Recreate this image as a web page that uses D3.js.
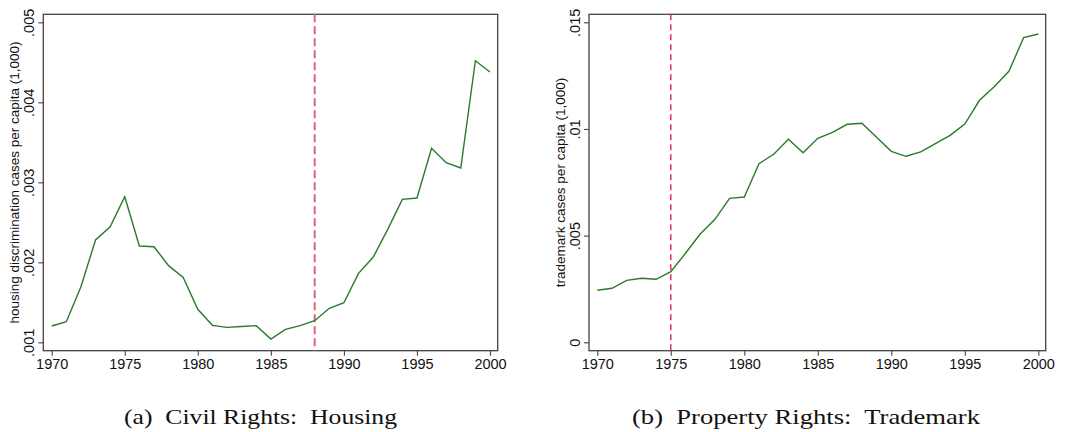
<!DOCTYPE html>
<html>
<head>
<meta charset="utf-8">
<script src="https://cdn.jsdelivr.net/npm/d3@7"></script>
<style>
  html, body { margin: 0; padding: 0; background: #fff; }
  svg { display: block; }
</style>
</head>
<body>
<svg id="chart" width="1067" height="432"></svg>
<script>
// Years shared by both panels
const years = d3.range(1970, 2001);

// Panel (a): housing discrimination cases per capita (1,000)
const housingValues = [
  0.001204, 0.001258, 0.001695, 0.002279, 0.002445, 0.00282, 0.002204, 0.002195,
  0.001958, 0.001812, 0.001412, 0.001212, 0.001187, 0.001198, 0.001208, 0.001041,
  0.001162, 0.001208, 0.00127, 0.001425, 0.001495, 0.001862, 0.002062, 0.002412,
  0.002787, 0.002804, 0.003425, 0.003245, 0.003179, 0.00452, 0.004379
];
const housingTicks = [0.001, 0.002, 0.003, 0.004, 0.005];
const housingTickLabels = [".001", ".002", ".003", ".004", ".005"];
const housingEventYear = 1988;

// Panel (b): trademark cases per capita (1,000)
const trademarkValues = [
  0.002437, 0.002531, 0.002906, 0.003, 0.002953, 0.00331, 0.004172, 0.005077,
  0.005766, 0.00675, 0.006811, 0.008372, 0.008813, 0.009516, 0.008888, 0.009563,
  0.009844, 0.010219, 0.010266, 0.00961, 0.008953, 0.008719, 0.008922, 0.00931,
  0.009703, 0.010233, 0.011344, 0.011983, 0.012703, 0.01428, 0.014452
];
const trademarkTicks = [0, 0.005, 0.01, 0.015];
const trademarkTickLabels = ["0", ".005", ".01", ".015"];
const trademarkEventYear = 1975;

const xTicks = [1970, 1975, 1980, 1985, 1990, 1995, 2000];

const svg = d3.select("#chart");
const sans = "Liberation Sans, Arial, sans-serif";

function drawPanel(cfg) {
  const g = svg.append("g");
  const x = d3.scaleLinear().domain([1970, 2000]).range([cfg.x0, cfg.x1]);
  const y = d3.scaleLinear().domain(cfg.yDomain).range(cfg.yRange);

  // plot frame
  g.append("rect")
    .attr("x", cfg.frame[0]).attr("y", cfg.frame[1])
    .attr("width", cfg.frame[2] - cfg.frame[0])
    .attr("height", cfg.frame[3] - cfg.frame[1])
    .attr("fill", "none").attr("stroke", "#444").attr("stroke-width", 1.3);

  // x axis
  const xAxis = g.append("g")
    .attr("transform", `translate(0,${cfg.frame[3]})`)
    .call(d3.axisBottom(x).tickValues(xTicks).tickFormat(d3.format("d")).tickSize(5).tickPadding(3));
  xAxis.select(".domain").remove();
  xAxis.selectAll("line").attr("stroke", "#444").attr("stroke-width", 1.1);
  xAxis.selectAll("text").attr("font-family", sans)
    .attr("font-size", 14.5).attr("fill", "#111");

  // y axis with rotated labels
  const yAxis = g.append("g")
    .attr("transform", `translate(${cfg.frame[0]},0)`)
    .call(d3.axisLeft(y).tickValues(cfg.ticks)
      .tickFormat((d, i) => cfg.tickLabels[i]).tickSize(5));
  yAxis.select(".domain").remove();
  yAxis.selectAll("line").attr("stroke", "#444").attr("stroke-width", 1.1);
  yAxis.selectAll("text")
    .attr("font-family", sans)
    .attr("font-size", 14.5).attr("fill", "#111")
    .attr("x", null).attr("dy", null)
    .attr("text-anchor", "middle")
    .attr("transform", "translate(-9,0) rotate(-90)")
    .attr("y", 0);

  // y axis title
  g.append("text")
    .attr("transform", `translate(${cfg.titleX},${(cfg.frame[1] + cfg.frame[3]) / 2}) rotate(-90)`)
    .attr("text-anchor", "middle")
    .attr("font-family", sans)
    .attr("font-size", 13.5).attr("fill", "#111")
    .text(cfg.yTitle);

  // event year marker
  g.append("line")
    .attr("x1", x(cfg.eventYear)).attr("x2", x(cfg.eventYear))
    .attr("y1", cfg.frame[1]).attr("y2", cfg.frame[3])
    .attr("stroke", cfg.dashColor).attr("stroke-width", cfg.dashWidth)
    .attr("stroke-dasharray", cfg.dashArray);

  // series line
  const line = d3.line().x((d, i) => x(years[i])).y(d => y(d));
  g.append("path")
    .datum(cfg.values)
    .attr("d", line)
    .attr("fill", "none").attr("stroke", "#2a7a2a")
    .attr("stroke-width", 1.4).attr("stroke-linejoin", "miter");

  // caption
  g.append("text")
    .attr("x", cfg.captionX).attr("y", 424)
    .attr("text-anchor", "middle")
    .attr("font-family", "Liberation Serif, Times New Roman, serif")
    .attr("font-size", 22).attr("fill", "#111")
    .attr("textLength", cfg.captionWidth).attr("lengthAdjust", "spacingAndGlyphs")
    .style("white-space", "pre")
    .text(cfg.caption);
}

drawPanel({
  x0: 51.7, x1: 490,
  yDomain: [0.001, 0.005], yRange: [342.3, 22.3],
  frame: [43.3, 14.3, 497.7, 350.7],
  ticks: housingTicks, tickLabels: housingTickLabels,
  values: housingValues,
  eventYear: housingEventYear,
  dashColor: "#e0607e", dashWidth: 2, dashArray: "8,4",
  yTitle: "housing discrimination cases per capita (1,000)",
  titleX: 18.5,
  caption: "(a)  Civil Rights:  Housing", captionX: 260.5, captionWidth: 273
});

drawPanel({
  x0: 597.3, x1: 1038.3,
  yDomain: [0, 0.015], yRange: [342.3, 22.3],
  frame: [589, 14.3, 1045.7, 350.7],
  ticks: trademarkTicks, tickLabels: trademarkTickLabels,
  values: trademarkValues,
  eventYear: trademarkEventYear,
  dashColor: "#dc143c", dashWidth: 1.3, dashArray: "6,4",
  yTitle: "trademark cases per capita (1,000)",
  titleX: 565,
  caption: "(b)  Property Rights:  Trademark", captionX: 806, captionWidth: 348
});
</script>
</body>
</html>
